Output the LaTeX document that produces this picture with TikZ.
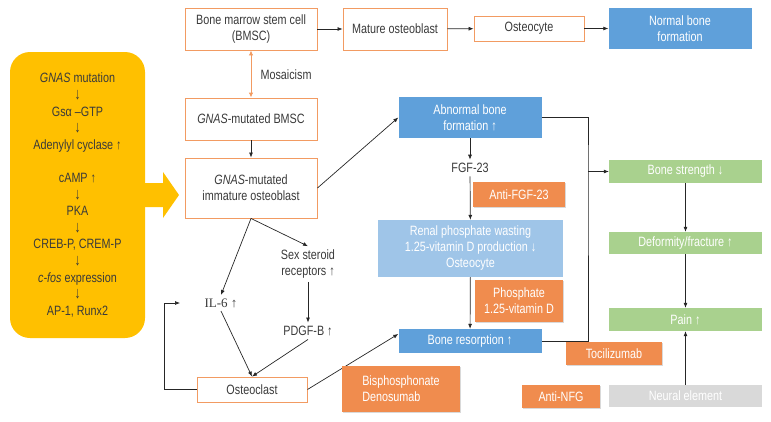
\documentclass[tikz,border=0pt]{standalone}
\usepackage{fontspec}
\setmainfont{Liberation Sans}[FakeStretch=0.8]
\newfontfamily\ilfont{Liberation Serif}
\usepackage{xcolor}
\usepackage{tikz}
\usetikzlibrary{arrows.meta,shadows}
\definecolor{gold}{HTML}{FFC000}
\definecolor{rim}{HTML}{F29B62}
\definecolor{drug}{HTML}{F08C4E}
\definecolor{bone}{HTML}{5FA0DA}
\definecolor{kidney}{HTML}{9FC5E8}
\definecolor{clinic}{HTML}{A9D18E}
\definecolor{nerve}{HTML}{D9D9D9}
\definecolor{ink}{HTML}{3A3A3A}
\newcommand{\dn}{\scalebox{1.1}[1.2]{↓}}

\tikzset{
  txt/.style={font=\fontsize{13.5}{16}\selectfont, text=ink, align=center},
  cell/.style={txt, draw=rim, line width=0.9pt, fill=white, inner sep=0pt},
  fill box/.style={txt, fill=#1, text=white, inner sep=0pt},
  therapy/.style={fill box=drug, drop shadow={shadow xshift=1pt, shadow yshift=-1pt, opacity=0.3}},
  link/.style={-{Latex[length=5pt,width=4pt]}, line width=0.7pt, draw=black!85},
}

\begin{document}
\begin{tikzpicture}[x=1pt,y=-1pt]
      \useasboundingbox (0,0) rectangle (771,421);
      % signalling cascade
      \node[txt, fill=gold, rounded corners=20pt, minimum width=135pt, minimum height=286pt,
            font=\fontsize{13.5}{16.6}\selectfont] (cascade) at (77.5,195)
        {\textit{GNAS} mutation\\ \dn\\ Gsα –GTP\\ \dn\\ Adenylyl cyclase ↑\\[16.6pt]
         cAMP ↑\\ \dn\\ PKA\\ \dn\\ CREB-P, CREM-P\\ \dn\\ \textit{c-fos} expression\\ \dn\\ AP-1, Runx2};
      \fill[gold] (144,183) -- (163,183) -- (163,172) -- (179,195) -- (163,218)
                  -- (163,207) -- (144,207) -- cycle;
      % cell lineage
      \node[cell, minimum width=132pt, minimum height=42pt] (bmsc) at (251,29) {Bone marrow stem cell\\(BMSC)};
      \node[cell, minimum width=104pt, minimum height=42pt] (mature) at (395,29) {Mature osteoblast};
      \node[cell, minimum width=110pt, minimum height=25pt] (osteocyte) at (529,28.5) {Osteocyte};
      \node[fill box=bone, minimum width=143pt, minimum height=41pt] (normal) at (680,28.5) {Normal bone\\formation};
      \node[cell, minimum width=132pt, minimum height=42pt] (gbmsc) at (251,119) {\textit{GNAS}-mutated BMSC};
      \node[cell, minimum width=132pt, minimum height=60pt] (immature) at (251,188) {\textit{GNAS}-mutated\\immature osteoblast};
      \node[txt, anchor=west] (mosaic) at (257,75) {Mosaicism};
      \node[txt, font=\ilfont\fontsize{13}{16}\selectfont] (il6) at (221,303) {IL-6 ↑};
      \node[txt] (steroid) at (308,264) {Sex steroid\\receptors ↑};
      \node[txt] (pdgf) at (308,331) {PDGF-B ↑};
      \node[cell, minimum width=110pt, minimum height=25pt] (osteoclast) at (252,389.5) {Osteoclast};
      % bone turnover
      \node[fill box=bone, minimum width=143pt, minimum height=41pt] (abnormal) at (470,117.5) {Abnormal bone\\formation ↑};
      \node[txt] (fgf) at (470,168) {FGF-23};
      \node[fill box=kidney, minimum width=185pt, minimum height=57pt] (renal) at (470.5,248.5)
        {Renal phosphate wasting\\1.25-vitamin D production ↓\\Osteocyte};
      \node[fill box=bone, minimum width=143pt, minimum height=24pt] (resorb) at (470,341) {Bone resorption ↑};
      % clinical outcome
      \node[fill box=clinic, minimum width=153pt, minimum height=23pt] (strength) at (685.5,171.5) {Bone strength ↓};
      \node[fill box=clinic, minimum width=153pt, minimum height=22pt] (deform) at (685.5,243) {Deformity/fracture ↑};
      \node[fill box=clinic, minimum width=153pt, minimum height=23pt] (pain) at (685.5,319.5) {Pain ↑};
      \node[fill box=nerve, minimum width=153pt, minimum height=22pt] (neural) at (685.5,396) {Neural element};
      % connectors
      \draw[link] (bmsc) -- (mature);
      \draw[link] (mature) -- (osteocyte);
      \draw[link] (osteocyte) -- (normal);
      \draw[{Latex[length=5pt,width=4.5pt]}-{Latex[length=5pt,width=4.5pt]}, rim, line width=0.9pt] (bmsc.south) -- (gbmsc.north);
      \draw[link] (gbmsc) -- (immature);
      \draw[link] (immature.east) -- (abnormal.west);
      \draw[link] (immature.south) -- (il6.north);
      \draw[link] (immature.south) -- (steroid.north);
      \draw[link] (steroid) -- (pdgf);
      \draw[link] (il6.south) -- (osteoclast.north);
      \draw[link] (pdgf.south) -- (osteoclast.north);
      \coordinate (loop) at (164,303);
      \draw[link] (osteoclast.west) -| (loop) -- ([xshift=-21pt]il6.west);
      \draw[link] (osteoclast.east) -- ([yshift=7pt]resorb.west);
      \draw[link] (abnormal) -- (fgf);
      \draw[link] (fgf) -- (renal);
      \draw[link] (renal) -- (resorb);
      \coordinate (rail) at (588,171.5);
      \draw[line width=0.7pt, black!85] (abnormal.east) -| (rail) |- (resorb.east);
      \draw[link] (rail) -- (strength.west);
      \draw[link] (strength) -- (deform);
      \draw[link] (deform) -- (pain);
      \draw[link] (neural) -- (pain);
      % treatments
      \node[therapy, minimum width=92pt, minimum height=25pt] (antifgf) at (519,194.5) {Anti-FGF-23};
      \node[therapy, minimum width=88pt, minimum height=42pt] (phos) at (519,301) {Phosphate\\1.25-vitamin D};
      \node[therapy, minimum width=96pt, minimum height=23pt] (toci) at (614,353.5) {Tocilizumab};
      \node[therapy, minimum width=118pt, minimum height=46pt, align=left] (bisph) at (401,389) {Bisphosphonate\\Denosumab};
      \node[therapy, minimum width=78pt, minimum height=23pt] (antinfg) at (561,396.5) {Anti-NFG};
    \end{tikzpicture}
\end{document}
